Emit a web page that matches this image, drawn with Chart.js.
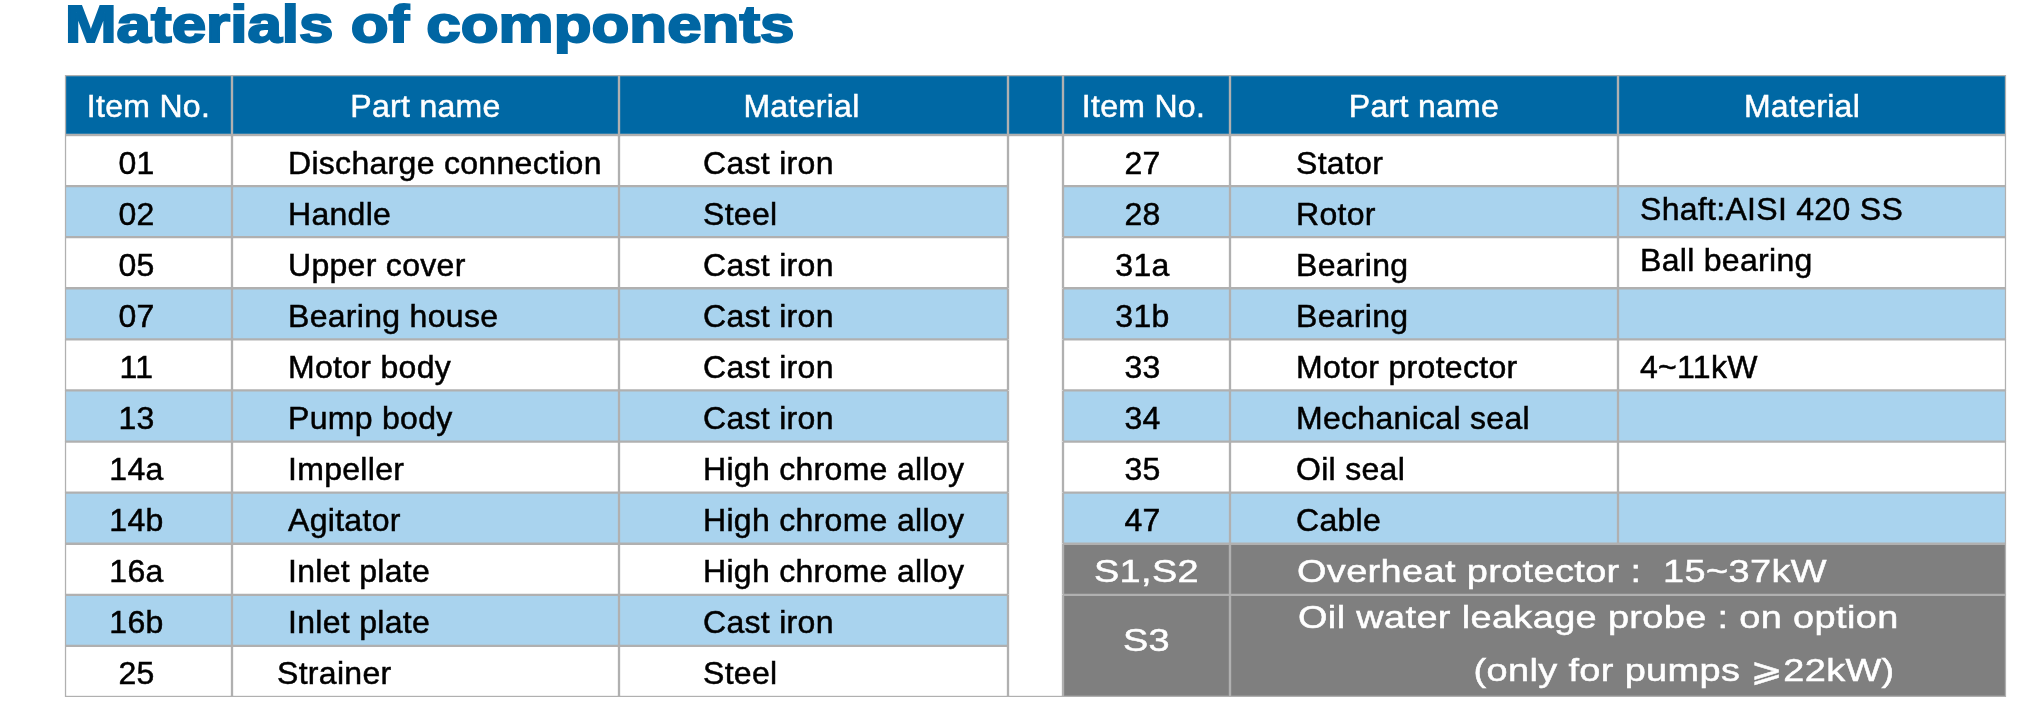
<!DOCTYPE html>
<html>
<head>
<meta charset="utf-8">
<script src="https://cdn.jsdelivr.net/npm/chart.js@4.4.1/dist/chart.umd.min.js"></script>
<style>
	html, body { margin: 0; padding: 0; background: #fff; overflow: hidden; }
	#title {
		position: absolute; left: 65px; top: -3px;
		font-family: "Liberation Sans", Arial, sans-serif; font-weight: 700;
		font-size: 52px; line-height: 54px; white-space: nowrap;
		color: #0066a3; -webkit-text-stroke: 2px #0066a3;
		transform-origin: 0 0;
	}
	.box { position: absolute; left: 0; width: 2036px; }
	#headBox { top: 75px; height: 60px; }
	#bodyBox { top: 135px; height: 562px; }
</style>
</head>
<body>
<div id="title">Materials of components</div>
<div class="box" id="headBox"><canvas id="headChart"></canvas></div>
<div class="box" id="bodyBox"><canvas id="bodyChart"></canvas></div>
<script>
// table contents
var headers = ['Item No.', 'Part name', 'Material'];

var leftItems = ['01', '02', '05', '07', '11', '13', '14a', '14b', '16a', '16b', '25'];
var leftParts = ['Discharge connection', 'Handle', 'Upper cover', 'Bearing house', 'Motor body',
	'Pump body', 'Impeller', 'Agitator', 'Inlet plate', 'Inlet plate', 'Strainer'];
var leftMaterials = ['Cast iron', 'Steel', 'Cast iron', 'Cast iron', 'Cast iron', 'Cast iron',
	'High chrome alloy', 'High chrome alloy', 'High chrome alloy', 'Cast iron', 'Steel'];

var rightItems = ['27', '28', '31a', '31b', '33', '34', '35', '47'];
var rightParts = ['Stator', 'Rotor', 'Bearing', 'Bearing', 'Motor protector', 'Mechanical seal', 'Oil seal', 'Cable'];
var rightMaterials = ['', 'Shaft:AISI 420 SS', 'Ball bearing', '', '4~11kW', '', '', ''];

var sensorItems = ['S1,S2', 'S3'];
var sensorNotes = [
	['Overheat protector :  15~37kW'],
	['Oil water leakage probe : on option', '(only for pumps \u2A7E22kW)']
];

// layout / style
var colEdges = [65, 232, 619, 1008, 1063, 1230, 1618, 2006];
var headBlue = '#0068a4',
		lightBlue = '#a9d3ee',
		sensorGray = '#7f7f7f',
		lineGray = '#b0b0b0',
		bw = 1.5;
var fontFamily = '"Liberation Sans", Arial, "DejaVu Sans", sans-serif';

// stretch the title to the width of the original heavy face
var title = document.getElementById('title');
title.style.transform = 'scaleX(' + (730 / title.offsetWidth) + ')';

var nRows = leftItems.length;
var rows = leftItems.map(function (v, i) { return i; });
var sensorStart = rightItems.length; // row where S1,S2 begins

function span(a, b) { return [colEdges[a], colEdges[b]]; }

// text for right side rows (S3 spans the last two rows)
var rightItemTexts = rows.map(function (i) {
	if (i < sensorStart) return rightItems[i];
	if (i === sensorStart) return sensorItems[0];
	if (i === sensorStart + 1) return sensorItems[1];
	return '';
});
var rightPartTexts = rows.map(function (i) {
	if (i < sensorStart) return rightParts[i];
	if (i === sensorStart) return sensorNotes[0];
	if (i === sensorStart + 1) return sensorNotes[1];
	return '';
});
var mergedSpans = {};
mergedSpans[sensorStart + 1] = 2;

function leftBg(c) { return c.dataIndex % 2 === 1 ? lightBlue : '#ffffff'; }
function rightBg(c) {
	if (c.dataIndex >= sensorStart) return sensorGray;
	return c.dataIndex % 2 === 1 ? lightBlue : '#ffffff';
}
function rightBorder(c) {
	var i = c.dataIndex;
	if (i === sensorStart + 1) return { top: bw, left: bw, right: bw, bottom: 0 };
	if (i === sensorStart + 2) return { top: 0, left: bw, right: bw, bottom: bw };
	return bw;
}
function gapBorder(c) {
	var i = c.dataIndex;
	return { top: i === 0 ? bw : 0, bottom: i === nRows - 1 ? bw : 0, left: bw, right: bw };
}
function rightTextColor(i) { return i >= sensorStart ? '#ffffff' : '#000000'; }
// the sensor rows use a wider face in the original
function rightStretch(i) { return i >= sensorStart ? 1.185 : 1; }
function black() { return '#000000'; }
function white() { return '#ffffff'; }

// draws the cell texts on top of the bars, using the bar geometry
var cellText = {
	id: 'cellText',
	afterDatasetsDraw: function (chart) {
		var ctx = chart.ctx;
		ctx.save();
		ctx.font = '32px ' + fontFamily;
		ctx.lineWidth = 0.5;
		ctx.textBaseline = 'alphabetic';
		ctx.letterSpacing = '0.3px';
		chart.data.datasets.forEach(function (ds, d) {
			if (!ds.texts) return;
			var meta = chart.getDatasetMeta(d);
			ds.texts.forEach(function (t, i) {
				if (!t || !meta.data[i]) return;
				var el = meta.data[i];
				var left = Math.min(el.x, el.base), right = Math.max(el.x, el.base);
				var cy = el.y;
				var sp = ds.spans && ds.spans[i];
				if (sp && meta.data[i + sp - 1]) cy = (el.y + meta.data[i + sp - 1].y) / 2;
				var lines = [].concat(t);
				var shift = ds.rowShift && ds.rowShift[i] !== undefined ? ds.rowShift[i] : ds.baseShift;
				var y0 = cy + shift;
				var sx = ds.stretch ? ds.stretch(i) : 1;
				ctx.fillStyle = ds.textColor(i);
				ctx.strokeStyle = ds.textColor(i);
				var pad = ds.padOverride && ds.padOverride[i] !== undefined ? ds.padOverride[i] : ds.textPad;
				var x0 = ds.textAlign === 'center' ? (left + right) / 2 + pad : left + pad;
				var w0 = ctx.measureText(lines[0]).width * sx;
				lines.forEach(function (line, k) {
					var x = x0, y = y0 + k * 53;
					ctx.textAlign = ds.textAlign;
					if (k > 0) {
						// continuation lines end where the first line ends
						ctx.textAlign = 'right';
						x = x0 + w0 - 4;
					}
					ctx.save();
					ctx.translate(x, y);
					ctx.scale(sx, 1);
					ctx.fillText(line, 0, 0);
					ctx.strokeText(line, 0, 0);
					ctx.restore();
				});
			});
		});
		ctx.restore();
	}
};

var baseOptions = function (labels) {
	return {
		indexAxis: 'y',
		responsive: true,
		maintainAspectRatio: false,
		animation: false,
		events: [],
		layout: { padding: 0 },
		plugins: { legend: { display: false }, tooltip: { enabled: false }, title: { display: false } },
		scales: {
			x: { type: 'linear', min: 0, max: 2036, display: false },
			y: { type: 'category', labels: labels, display: false }
		}
	};
};

function cellSet(data, bg, border, extra) {
	var ds = {
		data: data,
		backgroundColor: bg,
		borderColor: lineGray,
		borderWidth: border,
		borderSkipped: false,
		barPercentage: 1,
		categoryPercentage: 1,
		grouped: false
	};
	for (var k in extra) ds[k] = extra[k];
	return ds;
}

// header row
var headShift = [0, 0, -12, 0, -3, 0, -10];
var headTexts = [headers[0], headers[1], headers[2], '', headers[0], headers[1], headers[2]];
var headSets = headTexts.map(function (t, c) {
	return cellSet([span(c, c + 1)], headBlue, bw, {
		texts: [t], textAlign: 'center', textPad: headShift[c], baseShift: 12, textColor: white
	});
});

new Chart(document.getElementById('headChart').getContext('2d'), {
	type: 'bar',
	data: { labels: ['head'], datasets: headSets },
	options: baseOptions(['head']),
	plugins: [cellText]
});

// body rows
var itemPad = {};
itemPad[sensorStart] = 0;
itemPad[sensorStart + 1] = 0;
var itemShift = {};
itemShift[sensorStart + 1] = 5;
var noteShift = {};
noteShift[sensorStart + 1] = -18;
var notePad = {};
notePad[sensorStart] = 67;
notePad[sensorStart + 1] = 68;

var bodySets = [
	cellSet(rows.map(function () { return span(0, 1); }), leftBg, bw,
		{ texts: leftItems, textAlign: 'center', textPad: -12, baseShift: 13, textColor: black }),
	cellSet(rows.map(function () { return span(1, 2); }), leftBg, bw,
		{ texts: leftParts, textAlign: 'left', textPad: 56, baseShift: 13, textColor: black, padOverride: { 10: 45 } }),
	cellSet(rows.map(function () { return span(2, 3); }), leftBg, bw,
		{ texts: leftMaterials, textAlign: 'left', textPad: 84, baseShift: 13, textColor: black }),
	cellSet(rows.map(function () { return span(3, 4); }), '#ffffff', gapBorder, {}),
	cellSet(rows.map(function () { return span(4, 5); }), rightBg, rightBorder,
		{ texts: rightItemTexts, textAlign: 'center', textPad: -4, baseShift: 13, textColor: rightTextColor,
			stretch: rightStretch, spans: mergedSpans, padOverride: itemPad, rowShift: itemShift }),
	cellSet(rows.map(function (i) { return i >= sensorStart ? span(5, 7) : span(5, 6); }), rightBg, rightBorder,
		{ texts: rightPartTexts, textAlign: 'left', textPad: 66, baseShift: 13, textColor: rightTextColor,
			stretch: rightStretch, spans: mergedSpans, padOverride: notePad, rowShift: noteShift }),
	cellSet(rows.map(function (i) { return i >= sensorStart ? null : span(6, 7); }), rightBg, bw,
		{ texts: rightMaterials, textAlign: 'left', textPad: 22, baseShift: 13, textColor: black, rowShift: { 1: 8, 2: 8 } })
];

new Chart(document.getElementById('bodyChart').getContext('2d'), {
	type: 'bar',
	data: { labels: leftItems, datasets: bodySets },
	options: baseOptions(leftItems),
	plugins: [cellText]
});
</script>
</body>
</html>
